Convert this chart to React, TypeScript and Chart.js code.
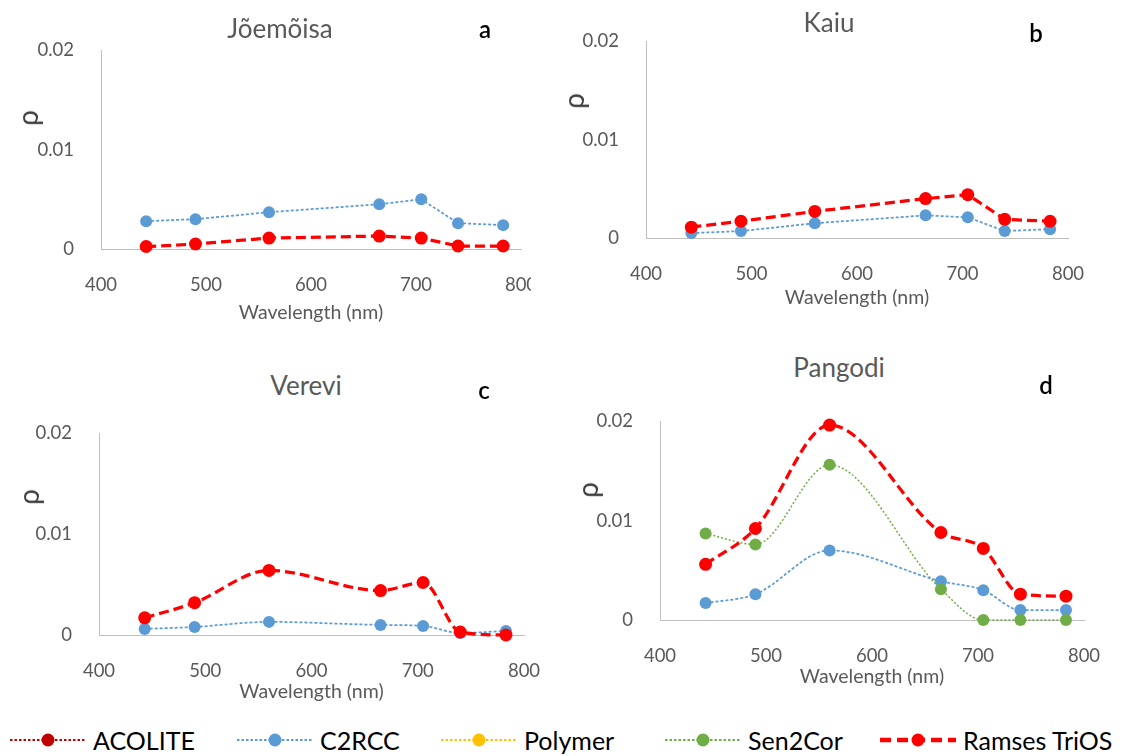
import React, { useEffect, useRef } from "react";
import { Chart, registerables } from "chart.js";

Chart.register(...registerables);

// ---------- data ----------
const wavelengths = [443, 490, 560, 665, 705, 740, 783];
const xTickValues = [400, 500, 600, 700, 800];
const yTickValues = [0, 0.01, 0.02];
const legendNames = ["ACOLITE", "C2RCC", "Polymer", "Sen2Cor", "Ramses TriOS"];

const jC2RCC = [0.0028, 0.003, 0.0037, 0.0045, 0.005, 0.0026, 0.0024];
const jRamses = [0.00025, 0.0005, 0.0011, 0.0013, 0.0011, 0.0003, 0.0003];

const kC2RCC = [0.0005, 0.0007, 0.0015, 0.0023, 0.0021, 0.0007, 0.0009];
const kRamses = [0.0011, 0.0017, 0.0027, 0.004, 0.0044, 0.0019, 0.0017];

const vC2RCC = [0.0006, 0.0008, 0.0013, 0.001, 0.0009, 0.0002, 0.0004];
const vRamses = [0.0017, 0.0032, 0.0064, 0.0044, 0.0052, 0.0003, 0.0];

const pC2RCC = [0.0017, 0.0026, 0.007, 0.0039, 0.003, 0.001, 0.001];
const pSen2Cor = [0.0087, 0.0076, 0.0156, 0.0031, 0.0, 0.0, 0.0];
const pRamses = [0.0056, 0.0092, 0.0196, 0.0088, 0.0072, 0.0026, 0.0024];

// ---------- styles ----------
const FONT = "Lato, 'Open Sans', sans-serif";
const GREY = "#595959";

type Style = { color: string; width: number; dash: number[]; radius: number; order: number };
const STYLE: Record<string, Style> = {
  ACOLITE: { color: "#C00000", width: 1.5, dash: [2, 2], radius: 6, order: 4 },
  C2RCC: { color: "#5B9BD5", width: 1.75, dash: [3, 2], radius: 6, order: 3 },
  Polymer: { color: "#FFC000", width: 1.5, dash: [2, 2], radius: 6, order: 2 },
  Sen2Cor: { color: "#70AD47", width: 1.5, dash: [2, 2], radius: 6, order: 1 },
  "Ramses TriOS": { color: "#FF0000", width: 3.25, dash: [10, 5], radius: 6.5, order: 0 },
};

type Series = { name: string; values: number[] };
type PanelDef = {
  title: string;
  letter: string;
  plot: { l: number; r: number; t: number; b: number };
  titlePos: [number, number];
  letterPos: [number, number];
  rhoPos: [number, number];
  xTitleOffset: number;
  smooth: boolean;
  clipRight?: number;
  series: Series[];
};

const PANELS: PanelDef[] = [
  {
    title: "Jõemõisa",
    letter: "a",
    plot: { l: 101, r: 524, t: 40, b: 249 },
    titlePos: [280, 28],
    letterPos: [485, 29],
    rhoPos: [27, 118],
    xTitleOffset: 64,
    smooth: false,
    clipRight: 531,
    series: [
      { name: "C2RCC", values: jC2RCC },
      { name: "Ramses TriOS", values: jRamses },
    ],
  },
  {
    title: "Kaiu",
    letter: "b",
    plot: { l: 646, r: 1071, t: 31, b: 238 },
    titlePos: [829, 22],
    letterPos: [1036, 33],
    rhoPos: [573, 101],
    xTitleOffset: 60,
    smooth: false,
    series: [
      { name: "C2RCC", values: kC2RCC },
      { name: "Ramses TriOS", values: kRamses },
    ],
  },
  {
    title: "Verevi",
    letter: "c",
    plot: { l: 99, r: 527, t: 423, b: 635 },
    titlePos: [306, 385],
    letterPos: [484, 390],
    rhoPos: [28, 497],
    xTitleOffset: 57,
    smooth: true,
    series: [
      { name: "C2RCC", values: vC2RCC },
      { name: "Ramses TriOS", values: vRamses },
    ],
  },
  {
    title: "Pangodi",
    letter: "d",
    plot: { l: 660, r: 1087, t: 411, b: 620 },
    titlePos: [839, 367],
    letterPos: [1046, 385],
    rhoPos: [587, 490],
    xTitleOffset: 57,
    smooth: true,
    series: [
      { name: "C2RCC", values: pC2RCC },
      { name: "Sen2Cor", values: pSen2Cor },
      { name: "Ramses TriOS", values: pRamses },
    ],
  },
];

const Y_AXIS_W = 100;
const X_AXIS_H = 80;
const PAD_TOP = 20;
const PAD_RIGHT = 30;
const TICK_SIZE = 18.5;
const XTITLE_SIZE = 19.5;

function Panel({ def }: { def: PanelDef }) {
  const ref = useRef<HTMLCanvasElement | null>(null);
  const { l, r, t, b } = def.plot;
  const cLeft = l - Y_AXIS_W;
  const cTop = t - PAD_TOP;
  const cWidth = r - l + Y_AXIS_W + PAD_RIGHT;
  const cHeight = b - t + PAD_TOP + X_AXIS_H;

  useEffect(() => {
    if (!ref.current) return;
    const lh = XTITLE_SIZE * 1.2;
    const titlePadBottom = X_AXIS_H - lh / 2 - def.xTitleOffset;
    const tickPad = 28 - (TICK_SIZE * 1.2) / 2;
    const chart = new Chart(ref.current, {
      type: "line",
      data: {
        datasets: def.series.map((s) => {
          const st = STYLE[s.name];
          return {
            label: s.name,
            data: wavelengths.map((w, i) => ({ x: w, y: s.values[i] })),
            borderColor: st.color,
            backgroundColor: st.color,
            borderWidth: st.width,
            borderDash: st.dash,
            pointRadius: st.radius,
            pointBackgroundColor: st.color,
            pointBorderColor: st.color,
            pointBorderWidth: 0,
            fill: false,
            tension: 0,
            cubicInterpolationMode: def.smooth ? "monotone" : "default",
            clip: false as any,
            order: st.order,
          } as any;
        }),
      },
      options: {
        animation: false,
        responsive: false,
        events: [],
        layout: { padding: { left: 0, top: PAD_TOP, right: PAD_RIGHT, bottom: 0 } },
        plugins: {
          legend: { display: false },
          tooltip: { enabled: false },
          title: { display: false },
        },
        scales: {
          x: {
            type: "linear",
            min: 400,
            max: 800,
            afterBuildTicks: (s: any) => {
              s.ticks = xTickValues.map((v) => ({ value: v }));
            },
            afterFit: (s: any) => {
              s.height = X_AXIS_H;
            },
            ticks: {
              padding: tickPad,
              autoSkip: false,
              maxRotation: 0,
              color: GREY,
              font: { family: FONT, size: TICK_SIZE },
              callback: (v: any) => String(v),
            },
            grid: { display: false },
            border: { display: true, color: "#BFBFBF", width: 1 },
            title: {
              display: true,
              text: "Wavelength (nm)",
              color: GREY,
              font: { family: FONT, size: XTITLE_SIZE },
              padding: { top: 0, bottom: titlePadBottom },
            },
          },
          y: {
            type: "linear",
            min: 0,
            max: 0.02,
            afterBuildTicks: (s: any) => {
              s.ticks = yTickValues.map((v) => ({ value: v }));
            },
            afterFit: (s: any) => {
              s.width = Y_AXIS_W;
            },
            ticks: {
              padding: 19,
              color: GREY,
              font: { family: FONT, size: TICK_SIZE },
              callback: (v: any) => (Number(v) === 0 ? "0" : Number(v).toFixed(2)),
            },
            grid: { display: false },
            border: { display: true, color: "#BFBFBF", width: 1 },
          },
        },
      } as any,
    });
    return () => chart.destroy();
  }, [def]);

  const textStyle = (x: number, y: number, extra: React.CSSProperties): React.CSSProperties => ({
    position: "absolute",
    left: x,
    top: y,
    transform: "translate(-50%, -50%)",
    whiteSpace: "nowrap",
    lineHeight: 1,
    fontFamily: FONT,
    ...extra,
  });

  const clipW = def.clipRight ? def.clipRight - cLeft : cWidth;

  return (
    <>
      <div
        style={{
          position: "absolute",
          left: cLeft,
          top: cTop,
          width: clipW,
          height: cHeight,
          overflow: "hidden",
        }}
      >
        <canvas ref={ref} width={cWidth} height={cHeight} style={{ display: "block" }} />
      </div>
      <div style={textStyle(def.titlePos[0], def.titlePos[1], { fontSize: 26, color: GREY })}>
        {def.title}
      </div>
      <div
        style={textStyle(def.letterPos[0], def.letterPos[1], {
          fontSize: 24,
          color: "#000",
          fontWeight: 600,
        })}
      >
        {def.letter}
      </div>
      <div
        style={textStyle(def.rhoPos[0], def.rhoPos[1], {
          fontSize: 28,
          color: "#404040",
          transform: "translate(-50%, -50%) rotate(-90deg)",
        })}
      >
        ρ
      </div>
    </>
  );
}

const LEGEND_X = [10, 237, 441, 665, 880];
const LEGEND_Y = 740;

function Legend() {
  return (
    <>
      {legendNames.map((name, i) => {
        const st = STYLE[name];
        const isRamses = name === "Ramses TriOS";
        return (
          <div
            key={name}
            style={{
              position: "absolute",
              left: LEGEND_X[i],
              top: LEGEND_Y - 14,
              height: 28,
              display: "flex",
              alignItems: "center",
              whiteSpace: "nowrap",
            }}
          >
            <svg width={76} height={20} style={{ display: "block" }}>
              <line
                x1={0}
                y1={10}
                x2={76}
                y2={10}
                stroke={st.color}
                strokeWidth={isRamses ? 4.5 : 2}
                strokeDasharray={isRamses ? "11 6" : "2.5 2"}
              />
              <circle cx={38} cy={10} r={6.5} fill={st.color} />
            </svg>
            <span
              style={{
                marginLeft: 7,
                fontFamily: FONT,
                fontSize: 25,
                color: "#000",
                lineHeight: 1,
              }}
            >
              {name}
            </span>
          </div>
        );
      })}
    </>
  );
}

export default function App() {
  return (
    <div
      style={{
        position: "absolute",
        left: 0,
        top: 0,
        width: 1142,
        height: 756,
        background: "#fff",
        overflow: "hidden",
      }}
    >
      {PANELS.map((p) => (
        <Panel key={p.letter} def={p} />
      ))}
      <Legend />
    </div>
  );
}
